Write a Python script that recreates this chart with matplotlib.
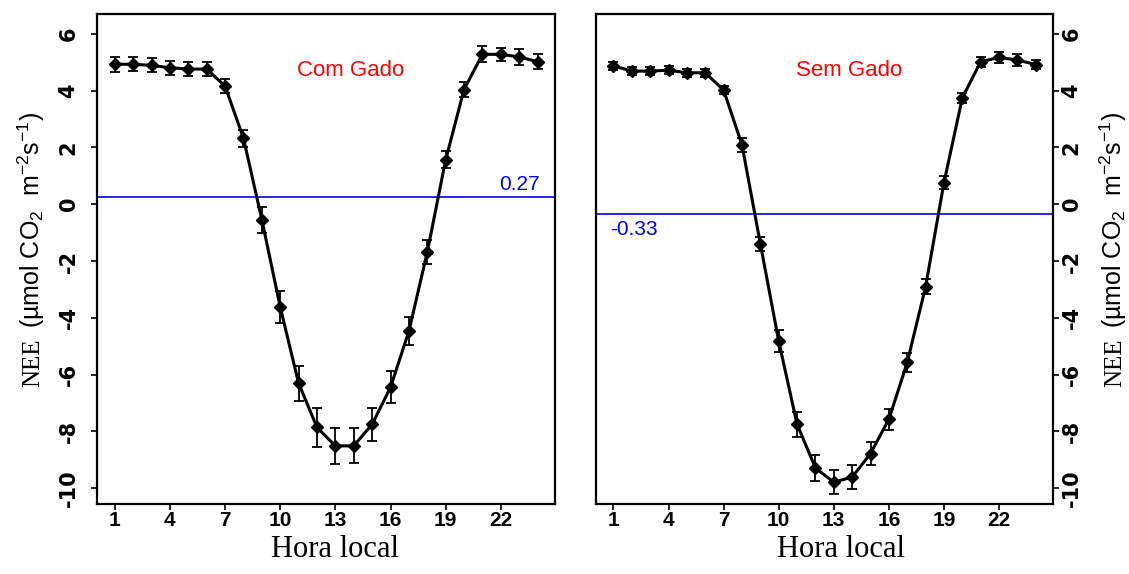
import matplotlib
matplotlib.use('Agg')
import matplotlib.pyplot as plt
import numpy as np

plt.rcParams['font.family'] = ['Liberation Sans', 'DejaVu Sans']
plt.rcParams['mathtext.fontset'] = 'custom'
plt.rcParams['mathtext.rm'] = 'Liberation Sans'
plt.rcParams['mathtext.sf'] = 'Liberation Sans'

# Dados: hora local, NEE média e erro padrão
hora = np.arange(1, 25)

nee_com = [4.93, 4.93, 4.89, 4.81, 4.76, 4.76, 4.16, 2.33, -0.54, -3.62,
           -6.30, -7.86, -8.51, -8.51, -7.75, -6.45, -4.47, -1.69, 1.56, 4.04,
           5.28, 5.28, 5.19, 5.02]
erro_com = [0.26, 0.25, 0.25, 0.25, 0.25, 0.25, 0.25, 0.30, 0.46, 0.56,
            0.62, 0.68, 0.64, 0.62, 0.58, 0.56, 0.50, 0.42, 0.30, 0.28,
            0.28, 0.23, 0.27, 0.27]

nee_sem = [4.87, 4.69, 4.69, 4.72, 4.63, 4.63, 4.02, 2.09, -1.39, -4.82,
           -7.75, -9.29, -9.79, -9.61, -8.78, -7.57, -5.57, -2.90, 0.76, 3.75,
           5.02, 5.17, 5.08, 4.92]
erro_sem = [0.15, 0.15, 0.15, 0.15, 0.15, 0.15, 0.14, 0.24, 0.25, 0.40,
            0.45, 0.45, 0.43, 0.43, 0.40, 0.37, 0.34, 0.27, 0.24, 0.18,
            0.17, 0.18, 0.20, 0.17]

media_com = 0.27
media_sem = -0.33

xticks = [1, 4, 7, 10, 13, 16, 19, 22]
yticks = [6, 4, 2, 0, -2, -4, -6, -8, -10]

unidade = r'(µmol CO$_\mathsf{2}$  m$^{\mathsf{-2}}$s$^{\mathsf{-1}}$)'

W, H = 1129, 574
fig = plt.figure(figsize=(11.29, 5.74), dpi=100)
ax1 = fig.add_axes([0.0862, 0.1228, 0.4054, 0.8528])
ax2 = fig.add_axes([0.5279, 0.1228, 0.4050, 0.8528])

paineis = [(ax1, nee_com, erro_com, media_com, 'Com Gado'),
           (ax2, nee_sem, erro_sem, media_sem, 'Sem Gado')]

for ax, nee, erro, media, titulo in paineis:
    ax.axhline(media, color='#0000ff', lw=1.2, zorder=1)
    ax.errorbar(hora, nee, yerr=erro, color='black', lw=2.2, marker='D',
                markersize=6, ecolor='black', elinewidth=1.3, capsize=3.6,
                capthick=1.3, zorder=3)
    ax.text(13.85, 4.72, titulo, color='red', fontsize=16,
            ha='center', va='center')
    ax.set_xlim(0.05, 24.95)
    ax.set_ylim(-10.54, 6.70)
    ax.set_xticks(xticks)
    ax.set_yticks(yticks)
    ax.set_xticklabels([str(t) for t in xticks], fontweight='bold', fontsize=15)
    ax.set_yticklabels([str(t) for t in yticks], fontweight='bold', fontsize=15,
                       fontfamily='DejaVu Sans', rotation=90, va='center')
    ax.tick_params(direction='out', length=4.5, width=1.2)
    ax.tick_params(axis='x', pad=1)
    for s in ax.spines.values():
        s.set_linewidth(1.6)
    ax.set_xlabel('Hora local', fontfamily='Liberation Serif', fontsize=22)

# textos das médias
ax1.text(24.1, 0.5, '0.27', color='#0000ff', fontsize=15, ha='right', va='baseline')
ax2.text(0.8, -1.08, '-0.33', color='#0000ff', fontsize=15, ha='left', va='baseline')

ax1.tick_params(axis='y', pad=9)
ax1.xaxis.set_label_coords(0.519, -0.064)

ax2.yaxis.tick_right()
ax2.tick_params(axis='y', pad=1.5)
ax2.xaxis.set_label_coords(0.536, -0.064)

# rótulos do eixo y: "NEE" em serifa, unidade em sans
for xc in (33.5, 1115):
    fig.text(xc / W, 1 - 363 / H, 'NEE', rotation=90, fontfamily='Liberation Serif',
             fontsize=18, ha='center', va='center')
    fig.text((xc - 2) / W, 1 - 328 / H, unidade, rotation=90, fontsize=18,
             ha='center', va='bottom')

fig.savefig('out.png', dpi=100)
